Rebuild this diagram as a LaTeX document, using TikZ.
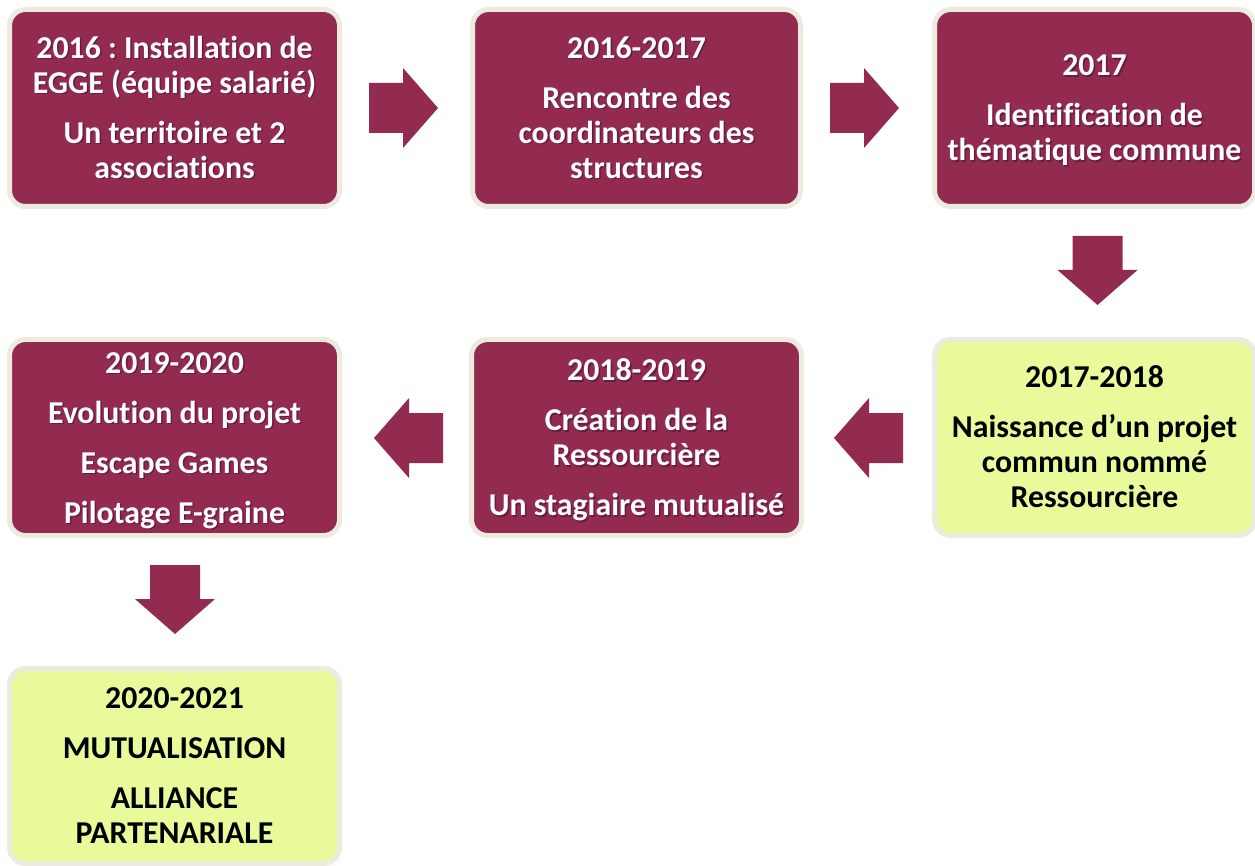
\documentclass[tikz,border=0pt]{standalone}
\usepackage{fontspec}
\setmainfont{Carlito}[Ligatures=NoCommon]
\frenchspacing
\definecolor{maroon}{HTML}{932A50}
\definecolor{lime}{HTML}{E9FA9B}
\definecolor{rim}{HTML}{EDEAE0}
\begin{document}
\begin{tikzpicture}[x=1pt,y=-1pt,
  boxbase/.style={draw=rim, line width=5pt, rounded corners=16pt, inner sep=0pt, minimum width=330pt, minimum height=197pt},
  mbox/.style={boxbase, fill=maroon},
  ybox/.style={boxbase, fill=lime},
  txt/.style={align=center, inner sep=0pt, font=\fontsize{31.8}{35}\selectfont\bfseries},
  wtxt/.style={txt, text=white},
  stxt/.style={txt, text=black, opacity=0.3},
  btxt/.style={txt, text=black},
  blockarrow/.style={fill=maroon, draw=none},
  pics/barrow/.style={code={\path[blockarrow] (0,-25) -- (34,-25) -- (34,-40) -- (69,0) -- (34,40) -- (34,25) -- (0,25) -- cycle;}}
]
\useasboundingbox (0,0) rectangle (1255,866);

% ---- row 1 ----
\node[mbox] (b1) at (174.5,108) {};
\node[stxt] at ([shift={(1.5,5)}]b1.center) {\strut 2016 : Installation de\\ EGGE (équipe salarié)\\[15pt] Un territoire et 2\\ associations\strut};
\node[wtxt] (t1) at ([shift={(0,3.5)}]b1.center) {\strut 2016 : Installation de\\ EGGE (équipe salarié)\\[15pt] Un territoire et 2\\ associations\strut};

\node[mbox, minimum width=328pt] (b2) at (636.5,108) {};
\node[stxt] at ([shift={(1.5,5)}]b2.center) {\strut 2016-2017\\[15pt] Rencontre des\\ coordinateurs des\\ structures\strut};
\node[wtxt] (t2) at ([shift={(0,3.5)}]b2.center) {\strut 2016-2017\\[15pt] Rencontre des\\ coordinateurs des\\ structures\strut};

\node[mbox, minimum width=320pt] (b3) at (1094.5,108) {};
\node[stxt] at ([shift={(1.5,5)}]b3.center) {\strut 2017\\[15pt] Identification de\\ thématique commune\strut};
\node[wtxt] (t3) at ([shift={(0,3.5)}]b3.center) {\strut 2017\\[15pt] Identification de\\ thématique commune\strut};

% ---- row 2 ----
\node[ybox, minimum width=320pt, minimum height=196pt] (b4) at (1094.5,437.5) {};
\node[btxt] (t4) at ([shift={(0,3)}]b4.center) {\strut 2017-2018\\[15pt] Naissance d’un projet\\ commun nommé\\ Ressourcière\strut};

\node[mbox, minimum width=330pt, minimum height=196pt] (b5) at (636.5,437.5) {};
\node[stxt] at ([shift={(1.5,5)}]b5.center) {\strut 2018-2019\\[15pt] Création de la\\ Ressourcière\\[15pt] Un stagiaire mutualisé\strut};
\node[wtxt] (t5) at ([shift={(0,3.5)}]b5.center) {\strut 2018-2019\\[15pt] Création de la\\ Ressourcière\\[15pt] Un stagiaire mutualisé\strut};

\node[mbox, minimum height=196pt] (b6) at (174.5,437.5) {};
\node[stxt] at ([shift={(1.5,5)}]b6.center) {\strut 2019-2020\\[15pt] Evolution du projet\\[15pt] Escape Games\\[15pt] Pilotage E-graine\strut};
\node[wtxt] (t6) at ([shift={(0,3.5)}]b6.center) {\strut 2019-2020\\[15pt] Evolution du projet\\[15pt] Escape Games\\[15pt] Pilotage E-graine\strut};

% ---- row 3 ----
\node[ybox, minimum height=195pt] (b7) at (174.5,766) {};
\node[btxt] (t7) at ([shift={(0,3)}]b7.center) {\strut 2020-2021\\[15pt] MUTUALISATION\\[15pt] ALLIANCE\\ PARTENARIALE\strut};

% ---- block arrows ----
\pic at (369,108) {barrow};
\pic at (830,108) {barrow};
\pic[rotate=-90] at (1097.5,236) {barrow};
\pic[rotate=180] at (903,438) {barrow};
\pic[rotate=180] at (443,438) {barrow};
\pic[rotate=-90] at (175,565) {barrow};
\end{tikzpicture}
\end{document}
